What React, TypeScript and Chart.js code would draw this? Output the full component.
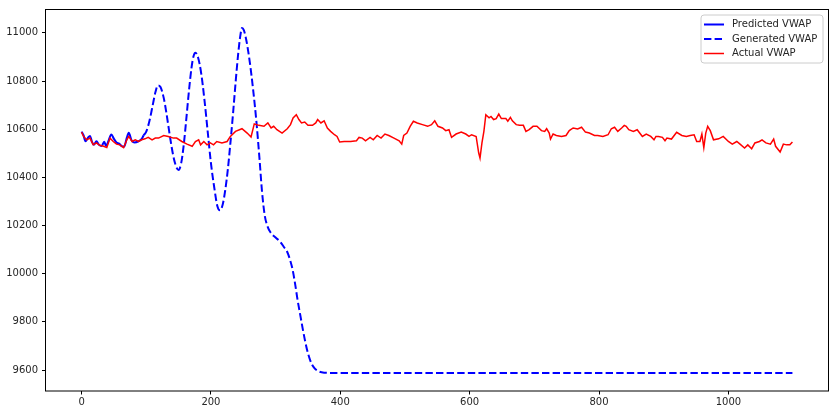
import React, { useEffect, useRef } from "react";
import { Chart, registerables } from "chart.js";

Chart.register(...registerables);

// ---------- data ----------
const actualX = [
  0, 3, 8, 13, 18, 23, 28, 34, 39, 44, 49, 54, 59, 65, 70, 73, 78, 83, 88, 93, 98, 103, 109, 114, 119, 127, 134, 142, 147, 155,
  163, 171, 176, 181, 184, 189, 194, 199, 204, 209, 217, 225,
  230, 238, 248, 256, 262, 267, 274, 282, 288, 293, 297, 302, 310, 318, 323, 327, 332, 336, 340, 345, 350, 357, 362, 365, 370, 375,
  380, 385, 391, 395, 399, 406, 416, 425, 429, 434, 439, 446, 451, 457, 463, 469, 475, 483, 491, 495, 498, 503, 508, 513, 519, 527,
  535, 541, 546, 551, 558, 563, 568, 572, 579, 587, 594, 599, 603, 610,
  614, 616, 619, 622, 625, 630, 633, 637, 641, 645, 649, 656, 659, 663, 666, 672, 677, 683, 687, 692, 698, 704, 711, 716, 719, 723,
  725, 729, 734, 742, 749, 754, 760, 767, 773, 779, 785, 793, 798, 806, 814, 819, 824, 829, 835, 839, 842, 846, 853, 859, 867, 873,
  880, 885, 888, 892, 898, 902, 905, 912, 920, 928, 935, 941, 947, 951, 956, 959, 962, 965, 968, 972, 977, 985, 992, 1000, 1006, 1013,
  1018, 1025, 1030, 1036, 1041, 1048, 1052, 1058, 1065, 1070, 1073, 1080, 1085, 1090, 1095, 1099,
];
const actualY = [
  10588, 10570, 10556, 10563, 10536, 10543, 10533, 10529, 10524, 10563, 10549, 10538, 10535, 10524, 10556, 10570, 10549, 10556, 10549, 10556, 10560, 10566, 10556, 10563, 10563, 10574, 10570, 10563, 10563, 10549,
  10538, 10529, 10549, 10556, 10535, 10549, 10535, 10543, 10535, 10549, 10543, 10549,
  10570, 10591, 10602, 10584, 10568, 10622, 10616, 10612, 10626, 10605, 10612, 10598, 10584, 10602, 10619, 10647, 10660, 10640, 10626, 10630, 10616, 10616, 10626, 10640, 10626, 10635,
  10605, 10591, 10577, 10570, 10547, 10549, 10549, 10552, 10566, 10563, 10552, 10566, 10556, 10574, 10563, 10580, 10574, 10563, 10552, 10538, 10574, 10584, 10612, 10633, 10626, 10619,
  10612, 10619, 10635, 10612, 10605, 10594, 10598, 10566, 10580, 10588, 10580, 10570, 10577, 10570,
  10501, 10480, 10543, 10591, 10660, 10647, 10653, 10640, 10644, 10663, 10644, 10644, 10633, 10649, 10635, 10619, 10616, 10616, 10591, 10598, 10612, 10612, 10594, 10591, 10602, 10584,
  10559, 10580, 10574, 10570, 10574, 10594, 10605, 10601, 10608, 10588, 10584, 10574, 10574, 10570, 10577, 10602, 10608, 10591, 10605, 10616, 10612, 10598, 10591, 10598, 10570, 10580,
  10570, 10556, 10570, 10570, 10566, 10552, 10563, 10559, 10587, 10574, 10570, 10574, 10577, 10549, 10549, 10580, 10524, 10584, 10612, 10594, 10556, 10560, 10570, 10549, 10538, 10549,
  10538, 10522, 10535, 10519, 10543, 10549, 10556, 10543, 10538, 10559, 10529, 10505, 10538, 10535, 10535, 10547,
];

const predictedX = [0, 3, 6, 10, 13, 16, 19, 23, 27, 31, 35, 38, 42, 46, 50, 54, 58, 62, 66, 70, 73, 77, 82, 88, 93, 96];
const predictedY = [
  10590, 10575, 10550, 10565, 10572, 10548, 10535, 10550, 10535, 10530, 10548, 10530, 10555, 10578, 10560, 10545, 10540, 10530,
  10528, 10565, 10585, 10555, 10545, 10550, 10560, 10575,
];

const generatedX = [
  96, 100, 105, 110, 114, 118, 122, 127, 131, 135, 139, 143, 147, 150, 154, 158, 162, 166, 170, 173, 176, 180, 185, 190, 195, 200,
  205, 210, 214, 218, 222, 226, 230, 234, 238, 242, 245, 248, 251, 255, 260, 265, 270, 275, 279, 283, 287, 292, 300, 307, 313, 318,
  322, 326, 330, 334, 338, 342, 346, 350, 355, 360, 366, 375, 390, 500, 700, 900, 1099,
];
const generatedY = [
  10575, 10590, 10635, 10700, 10752, 10782, 10775, 10730, 10670, 10599, 10530, 10474, 10440, 10431, 10459, 10536, 10645, 10759, 10856,
  10902, 10917, 10899, 10831, 10721, 10590, 10459, 10360, 10280, 10263, 10285, 10345, 10430, 10540, 10660, 10790, 10910, 10980, 11020,
  11010, 10965, 10880, 10770, 10640, 10480, 10340, 10245, 10200, 10172, 10150, 10133, 10110, 10090, 10060, 10020, 9960, 9890, 9830,
  9770, 9715, 9670, 9630, 9608, 9595, 9589, 9588, 9588, 9588, 9588, 9588,
];

const xTicks = [0, 200, 400, 600, 800, 1000];
const yTicks = [9600, 9800, 10000, 10200, 10400, 10600, 10800, 11000];
const seriesNames = ["Predicted VWAP", "Generated VWAP", "Actual VWAP"];

// ---------- styling ----------
const FONT = '"DejaVu Sans", "Liberation Sans", sans-serif';
const TEXT = "#262626";
const BLUE = "#0000ff";
const RED = "#ff0000";
const DASH = [7.4, 3.2];

const toPoints = (xs: number[], ys: number[]) => xs.map((x, i) => ({ x, y: ys[i] }));

const framePlugin = {
  id: "mplFrame",
  afterDraw(chart: any) {
    const { ctx, chartArea: a } = chart;
    ctx.save();
    ctx.strokeStyle = "#000";
    ctx.lineWidth = 1;
    ctx.strokeRect(a.left - 0.5, a.top - 0.5, a.right - a.left + 1, a.bottom - a.top + 1);
    ctx.restore();
  },
};

const legendPlugin = {
  id: "mplLegend",
  afterDraw(chart: any) {
    const { ctx, chartArea: a } = chart;
    const items = [
      { label: seriesNames[0], color: BLUE, width: 2, dash: [] as number[] },
      { label: seriesNames[1], color: BLUE, width: 2, dash: DASH },
      { label: seriesNames[2], color: RED, width: 1.5, dash: [] as number[] },
    ];
    const w = 122;
    const h = 48;
    const x0 = a.right - 5 - w;
    const y0 = a.top + 5;
    ctx.save();
    const r = 3;
    ctx.beginPath();
    ctx.moveTo(x0 + r, y0);
    ctx.lineTo(x0 + w - r, y0);
    ctx.quadraticCurveTo(x0 + w, y0, x0 + w, y0 + r);
    ctx.lineTo(x0 + w, y0 + h - r);
    ctx.quadraticCurveTo(x0 + w, y0 + h, x0 + w - r, y0 + h);
    ctx.lineTo(x0 + r, y0 + h);
    ctx.quadraticCurveTo(x0, y0 + h, x0, y0 + h - r);
    ctx.lineTo(x0, y0 + r);
    ctx.quadraticCurveTo(x0, y0, x0 + r, y0);
    ctx.closePath();
    ctx.fillStyle = "rgba(255,255,255,0.8)";
    ctx.fill();
    ctx.strokeStyle = "#cccccc";
    ctx.lineWidth = 1;
    ctx.stroke();

    ctx.font = `10px ${FONT}`;
    ctx.textBaseline = "middle";
    ctx.textAlign = "left";
    items.forEach((it, i) => {
      const yy = y0 + 9.5 + i * 14.5;
      ctx.beginPath();
      ctx.setLineDash(it.dash);
      ctx.strokeStyle = it.color;
      ctx.lineWidth = it.width;
      ctx.moveTo(x0 + 3, yy);
      ctx.lineTo(x0 + 23, yy);
      ctx.stroke();
      ctx.setLineDash([]);
      ctx.fillStyle = TEXT;
      ctx.fillText(it.label, x0 + 31, yy);
    });
    ctx.restore();
  },
};

export default function App() {
  const canvasRef = useRef<HTMLCanvasElement | null>(null);

  useEffect(() => {
    if (!canvasRef.current) return;
    const tickFont = { size: 10, family: FONT };
    const chart = new Chart(canvasRef.current, {
      type: "line",
      data: {
        datasets: [
          {
            label: seriesNames[0],
            data: toPoints(predictedX, predictedY),
            borderColor: BLUE,
            borderWidth: 2,
            pointRadius: 0,
            fill: false,
            cubicInterpolationMode: "monotone",
            order: 3,
          },
          {
            label: seriesNames[1],
            data: toPoints(generatedX, generatedY),
            borderColor: BLUE,
            borderWidth: 2,
            borderDash: DASH,
            pointRadius: 0,
            fill: false,
            cubicInterpolationMode: "monotone",
            order: 2,
          },
          {
            label: seriesNames[2],
            data: toPoints(actualX, actualY),
            borderColor: RED,
            borderWidth: 1.5,
            pointRadius: 0,
            fill: false,
            tension: 0,
            order: 1,
          },
        ],
      },
      options: {
        responsive: false,
        animation: false,
        layout: { padding: { top: 10, right: 9, left: 0, bottom: 0 } },
        plugins: { legend: { display: false }, tooltip: { enabled: false } },
        scales: {
          x: {
            type: "linear",
            min: -55,
            max: 1154,
            afterBuildTicks: (s: any) => {
              s.ticks = xTicks.map((v) => ({ value: v }));
            },
            afterFit: (s: any) => {
              s.height = 24.5;
            },
            grid: { drawOnChartArea: false, drawTicks: true, tickLength: 4, color: "#000", lineWidth: 1 },
            border: { display: false },
            ticks: {
              color: TEXT,
              font: tickFont,
              padding: 2,
              maxRotation: 0,
              autoSkip: false,
              callback: (v: any) => String(v),
            },
          },
          y: {
            type: "linear",
            min: 9515,
            max: 11095,
            afterBuildTicks: (s: any) => {
              s.ticks = yTicks.map((v) => ({ value: v }));
            },
            afterFit: (s: any) => {
              s.width = 46;
            },
            grid: { drawOnChartArea: false, drawTicks: true, tickLength: 4, color: "#000", lineWidth: 1 },
            border: { display: false },
            ticks: {
              color: TEXT,
              font: tickFont,
              padding: 4,
              autoSkip: false,
              callback: (v: any) => String(v),
            },
          },
        },
      },
      plugins: [framePlugin, legendPlugin],
    } as any);
    return () => chart.destroy();
  }, []);

  return (
    <div style={{ position: "fixed", left: 0, top: 0, width: 837, height: 415, background: "#fff" }}>
      <canvas ref={canvasRef} width={837} height={415} style={{ display: "block" }} />
    </div>
  );
}
